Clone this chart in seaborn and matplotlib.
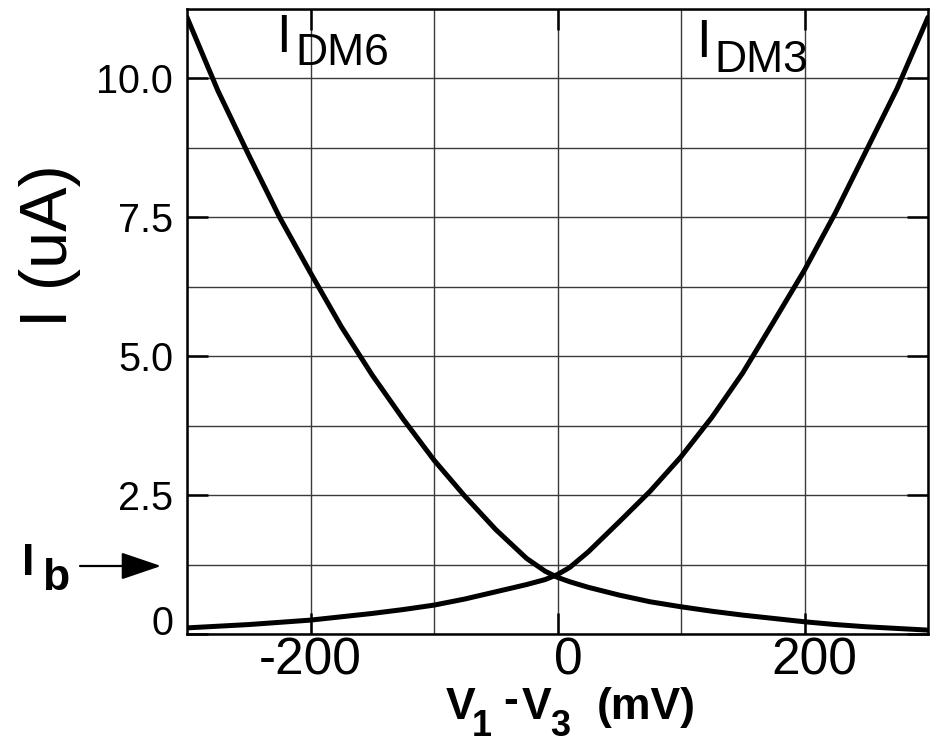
import matplotlib
matplotlib.use("Agg")
import matplotlib.pyplot as plt
import matplotlib.ticker as mticker
import matplotlib.transforms as mtransforms
import seaborn as sns

W, H = 938, 744

# differential input voltage (mV) and the two drain currents (uA)
v_diff = [-300, -275, -250, -225, -200, -175, -150, -125, -100, -75, -50, -25, -10,
          0, 10, 25, 50, 75, 100, 125, 150, 175, 200, 225, 250, 275, 300]
i_dm3 = [0.11, 0.14, 0.17, 0.21, 0.25, 0.31, 0.37, 0.44, 0.52, 0.63, 0.76, 0.89, 0.98,
         1.07, 1.20, 1.48, 2.02, 2.57, 3.19, 3.90, 4.70, 5.62, 6.55, 7.58, 8.70, 9.82, 11.10]
i_dm6 = [11.10, 9.78, 8.62, 7.50, 6.50, 5.53, 4.66, 3.87, 3.13, 2.48, 1.88, 1.36, 1.13,
         1.02, 0.94, 0.84, 0.70, 0.58, 0.49, 0.41, 0.34, 0.28, 0.22, 0.17, 0.13, 0.10, 0.07]

x_ticks = [-200, 0, 200]
x_tick_labels = ["-200", "0", "200"]
y_ticks = [0, 2.5, 5.0, 7.5, 10.0]
y_tick_labels = ["0", "2.5", "5.0", "7.5", "10.0"]
x_grid_step = 100
y_grid_step = 1.25
x_range = (-300, 300)
y_range = (0, 11.25)


def fxy(px, py):
    """pixel position (top-left origin) -> figure fraction"""
    return px / W, 1 - py / H


sns.set_theme(style="white")
plt.rcParams["font.family"] = ["Liberation Sans", "DejaVu Sans"]
plt.rcParams["axes.unicode_minus"] = False

fig = plt.figure(figsize=(W / 100, H / 100), dpi=100)
ax = fig.add_axes([187 / W, 110 / H, 741 / W, 625 / H])

sns.lineplot(x=v_diff, y=i_dm6, ax=ax, color="black", linewidth=3.6)
sns.lineplot(x=v_diff, y=i_dm3, ax=ax, color="black", linewidth=3.6)

ax.set_xlim(*x_range)
ax.set_ylim(*y_range)
ax.set_xticks(x_ticks)
ax.set_xticklabels(x_tick_labels)
ax.set_yticks(y_ticks)
ax.set_yticklabels(y_tick_labels)
ax.xaxis.set_minor_locator(mticker.MultipleLocator(x_grid_step))
ax.yaxis.set_minor_locator(mticker.MultipleLocator(y_grid_step))
ax.grid(which="both", color="#3a3a3a", linewidth=1.0)
ax.set_axisbelow(True)
ax.tick_params(which="major", direction="in", length=15, width=1.8, color="black",
               top=True, right=True, bottom=True, left=True, labelcolor="black")
ax.tick_params(which="minor", length=0)
ax.tick_params(axis="x", labelsize=37, pad=2)
ax.tick_params(axis="y", labelsize=28.5, pad=10)
for s in ax.spines.values():
    s.set_visible(True)
    s.set_color("black")
    s.set_linewidth(1.8)
ax.set_xlabel("")
ax.set_ylabel("")

# nudge tick labels like the original drawing
for lbl, dx in zip(ax.get_xticklabels(), [0, 11, 10]):
    lbl.set_transform(lbl.get_transform() + mtransforms.ScaledTranslation(dx / 100, 0, fig.dpi_scale_trans))
ylbls = ax.get_yticklabels()
ylbls[0].set_transform(ylbls[0].get_transform() + mtransforms.ScaledTranslation(0, 14 / 100, fig.dpi_scale_trans))

# y label
fig.text(*fxy(50, 246), "I (uA)", rotation=90, ha="center", va="center", fontsize=48, color="black")

# x label with big subscripts
bold = dict(fontweight="bold", color="black", ha="left", va="baseline")
fig.text(*fxy(446, 719), "V", fontsize=32, **bold)
fig.text(*fxy(472, 736), "1", fontsize=26, **bold)
fig.text(*fxy(503, 713), "-", fontsize=32, **bold)
fig.text(*fxy(522, 719), "V", fontsize=32, **bold)
fig.text(*fxy(550, 736), "3", fontsize=26, **bold)
fig.text(*fxy(597, 719), "(mV)", fontsize=32, **bold)

# curve labels
reg = dict(color="black", ha="left", va="baseline")
fig.text(*fxy(276, 52), "I", fontsize=38, **reg)
fig.text(*fxy(295, 65), "DM6", fontsize=32, **reg)
fig.text(*fxy(696, 57), "I", fontsize=38, **reg)
fig.text(*fxy(714, 72), "DM3", fontsize=32, **reg)

# bias current marker
fig.text(*fxy(22, 575), "I", fontsize=32, **bold)
fig.text(*fxy(42, 590), "b", fontsize=32, **bold)
ax.annotate("", xy=(161, H - 566), xycoords="figure pixels",
            xytext=(80, H - 566), textcoords="figure pixels",
            arrowprops=dict(arrowstyle="-|>,head_length=1.0,head_width=0.34",
                            mutation_scale=25, lw=1.6, color="black",
                            shrinkA=0, shrinkB=0),
            annotation_clip=False)

fig.savefig("out.png", dpi=100)
